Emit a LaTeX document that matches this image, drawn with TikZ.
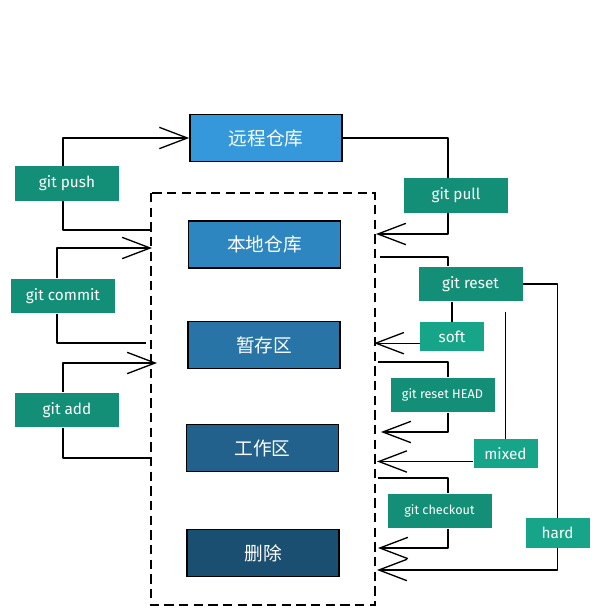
\documentclass[tikz,border=0pt]{standalone}
\usepackage{fontspec}
\setmainfont{Fira Sans}
\newfontfamily\cjk{Noto Sans CJK SC}
\usetikzlibrary{arrows.meta}
\definecolor{reporemote}{HTML}{3498DB}
\definecolor{repolocal}{HTML}{2E86C1}
\definecolor{repostage}{HTML}{2874A6}
\definecolor{repowork}{HTML}{21618C}
\definecolor{repogone}{HTML}{1B4F72}
\definecolor{cmdgreen}{HTML}{148F77}
\definecolor{modegreen}{HTML}{17A589}
\tikzset{
  repo/.style={draw=black, line width=1.2pt, text=white, minimum width=114pt,
    minimum height=35pt, inner sep=0pt, font=\cjk\fontsize{14}{16}\selectfont},
  cmd/.style={fill=cmdgreen, text=white, minimum width=78pt, minimum height=26pt,
    inner sep=0pt, font=\fontsize{11.5}{13}\selectfont},
  cmdsmall/.style={cmd, font=\fontsize{9.5}{11}\selectfont},
  mode/.style={cmd, fill=modegreen, minimum width=48pt, minimum height=22pt},
  lnk/.style={line width=1pt, line join=round},
  arr/.style={lnk, -{Straight Barb[length=21pt, width=16pt]}},
}

\begin{document}
\begin{tikzpicture}[x=0.75pt, y=-0.75pt]
  \useasboundingbox (0,0) rectangle (601,615);
  % storage areas
  \draw[line width=0.9pt, dash pattern=on 7pt off 4pt] (151,193) rectangle (375,605);
  \node[repo, fill=reporemote] (remote) at (266,138) {远程仓库};
  \node[repo, fill=repolocal] (local) at (264.5,244.5) {本地仓库};
  \node[repo, fill=repostage] (stage) at (264,345) {暂存区};
  \node[repo, fill=repowork] (work) at (262.5,448) {工作区};
  \node[repo, fill=repogone] (gone) at (263,553) {删除};
  % commands
  \node[cmd] (push) at (67,183.5) {git push};
  \node[cmd] (commit) at (63,296) {git commit};
  \node[cmd] (add) at (67,410) {git add};
  \node[cmd] (pull) at (456,195.5) {git pull};
  \node[cmd] (reset) at (470.5,284) {git reset};
  \node[cmdsmall] (resethead) at (442.5,395) {git reset HEAD};
  \node[cmdsmall] (checkout) at (439.5,511) {git checkout};
  \node[mode] (soft) at (452,336.5) {soft};
  \node[mode] (mixed) at (505.5,453.5) {mixed};
  \node[mode] (hard) at (557.5,533) {hard};
  % ends on the dashed border
  \coordinate (col) at (448,0);
  \coordinate (pushfrom) at (151,230);
  \coordinate (committo) at (152,248);
  \coordinate (commitfrom) at (146,343);
  \coordinate (addto) at (157,363);
  \coordinate (addfrom) at (151,458);
  \coordinate (pullto) at (376,234);
  \coordinate (resetfrom) at (380,257);
  \coordinate (softto) at (374,0);
  \coordinate (headfrom) at (378,362);
  \coordinate (headto) at (381,432);
  \coordinate (mixedto) at (377,0);
  \coordinate (checkfrom) at (378,478);
  \coordinate (checkto) at (378,548);
  \coordinate (hardto) at (377,570);
  % left side
  \draw[lnk] ([xshift=-3pt]push.south) |- (pushfrom);
  \draw[arr] ([xshift=-3pt]push.north) |- (remote.west);
  \draw[lnk] ([xshift=-4.5pt]commit.south) |- (commitfrom);
  \draw[arr] ([xshift=-4.5pt]commit.north) |- (committo);
  \draw[lnk] ([xshift=-3pt]add.south) |- (addfrom);
  \draw[arr] ([xshift=-3pt]add.north) |- (addto);
  % right side
  \draw[lnk] (remote.east) -| (pull.north -| col);
  \draw[arr] (pull.south -| col) |- (pullto);
  \draw[lnk] (resetfrom) -| (reset.north -| col);
  \draw[lnk] (reset.south -| soft.north) -- (soft.north);
  \draw[arr] ([yshift=-5pt]soft.west) -- ([yshift=-5pt]soft.west -| softto);
  \draw[lnk] ([yshift=-7.5pt]reset.south -| mixed.north) -- (mixed.north);
  \draw[arr] ([yshift=-6pt]mixed.west) -- ([yshift=-6pt]mixed.west -| mixedto);
  \draw[lnk] (reset.east) -| (hard.north);
  \draw[arr] (hard.south) |- (hardto);
  \draw[lnk] (headfrom) -| (resethead.north -| col);
  \draw[arr] (resethead.south -| col) |- (headto);
  \draw[lnk] (checkfrom) -| (checkout.north -| col);
  \draw[arr] (checkout.south -| col) |- (checkto);
\end{tikzpicture}
\end{document}
